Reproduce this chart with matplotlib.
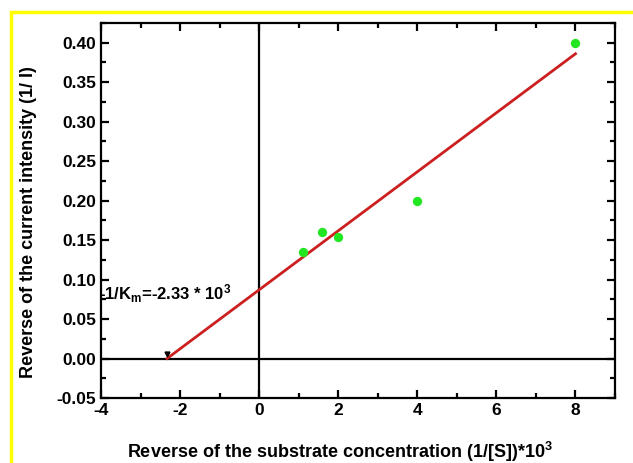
import matplotlib
matplotlib.use("Agg")
import matplotlib.pyplot as plt
from matplotlib.ticker import MultipleLocator
from matplotlib.patches import Rectangle

# reciprocal data (Lineweaver-Burk)
inv_s = [1.1, 1.6, 2.0, 4.0, 8.0]
inv_i = [0.135, 0.160, 0.154, 0.200, 0.400]

# fitted line
fit_x = [-2.33, 8.0]
fit_y = [0.0, 0.386]
km_x = -2.33

plt.rcParams['font.family'] = ['Liberation Sans', 'DejaVu Sans']
plt.rcParams['font.weight'] = 'bold'
plt.rcParams['axes.unicode_minus'] = False
plt.rcParams['mathtext.fontset'] = 'custom'
plt.rcParams['mathtext.bf'] = 'Liberation Sans:bold'
plt.rcParams['mathtext.rm'] = 'Liberation Sans:bold'
plt.rcParams['mathtext.default'] = 'bf'

fig = plt.figure(figsize=(6.33, 4.63), dpi=100)
ax = fig.add_axes([0.1596, 0.1404, 0.812, 0.81])

# yellow frame around the figure
fig.patches.append(Rectangle((11 / 633, -0.1), 1.2, 1 - 12.5 / 463 + 0.1,
                             transform=fig.transFigure, fill=False,
                             edgecolor='#ffff00', linewidth=2.5))

ax.axhline(0, color='black', lw=1.6, zorder=1)
ax.axvline(0, color='black', lw=1.6, zorder=1)
ax.plot(fit_x, fit_y, color='#cc2020', lw=2, zorder=2)
ax.scatter(inv_s, inv_i, s=45, color='#22e622', zorder=3, linewidths=0)
ax.plot([km_x], [0.006], marker='v', color='black', markersize=3.5, zorder=4)

ax.text(-4.05, 0.082, r"-1/K$_m$=-2.33 * 10$^3$", fontsize=12, va='center',
        ha='left', fontweight='bold')

ax.set_xlim(-4, 9)
ax.set_ylim(-0.05, 0.425)
ax.xaxis.set_major_locator(MultipleLocator(2))
ax.xaxis.set_minor_locator(MultipleLocator(1))
ax.yaxis.set_major_locator(MultipleLocator(0.05))
ax.yaxis.set_minor_locator(MultipleLocator(0.025))
ax.yaxis.set_major_formatter(matplotlib.ticker.FormatStrFormatter('%.2f'))

ax.tick_params(which='both', direction='in', top=True, right=True,
               labelsize=12.5, width=1.6)
ax.tick_params(which='major', length=6)
ax.tick_params(which='minor', length=3.5)
for s in ax.spines.values():
    s.set_linewidth(1.6)

ax.set_xlabel(r"Reverse of the substrate concentration (1/[S])*10$^3$",
              fontsize=13, fontweight='bold')
ax.xaxis.set_label_coords(0.464, -0.112)
ax.set_ylabel("Reverse of the current intensity (1/ I)", fontsize=13,
              fontweight='bold')
ax.yaxis.set_label_coords(-0.124, 0.468)

fig.savefig("out.png", dpi=100)
